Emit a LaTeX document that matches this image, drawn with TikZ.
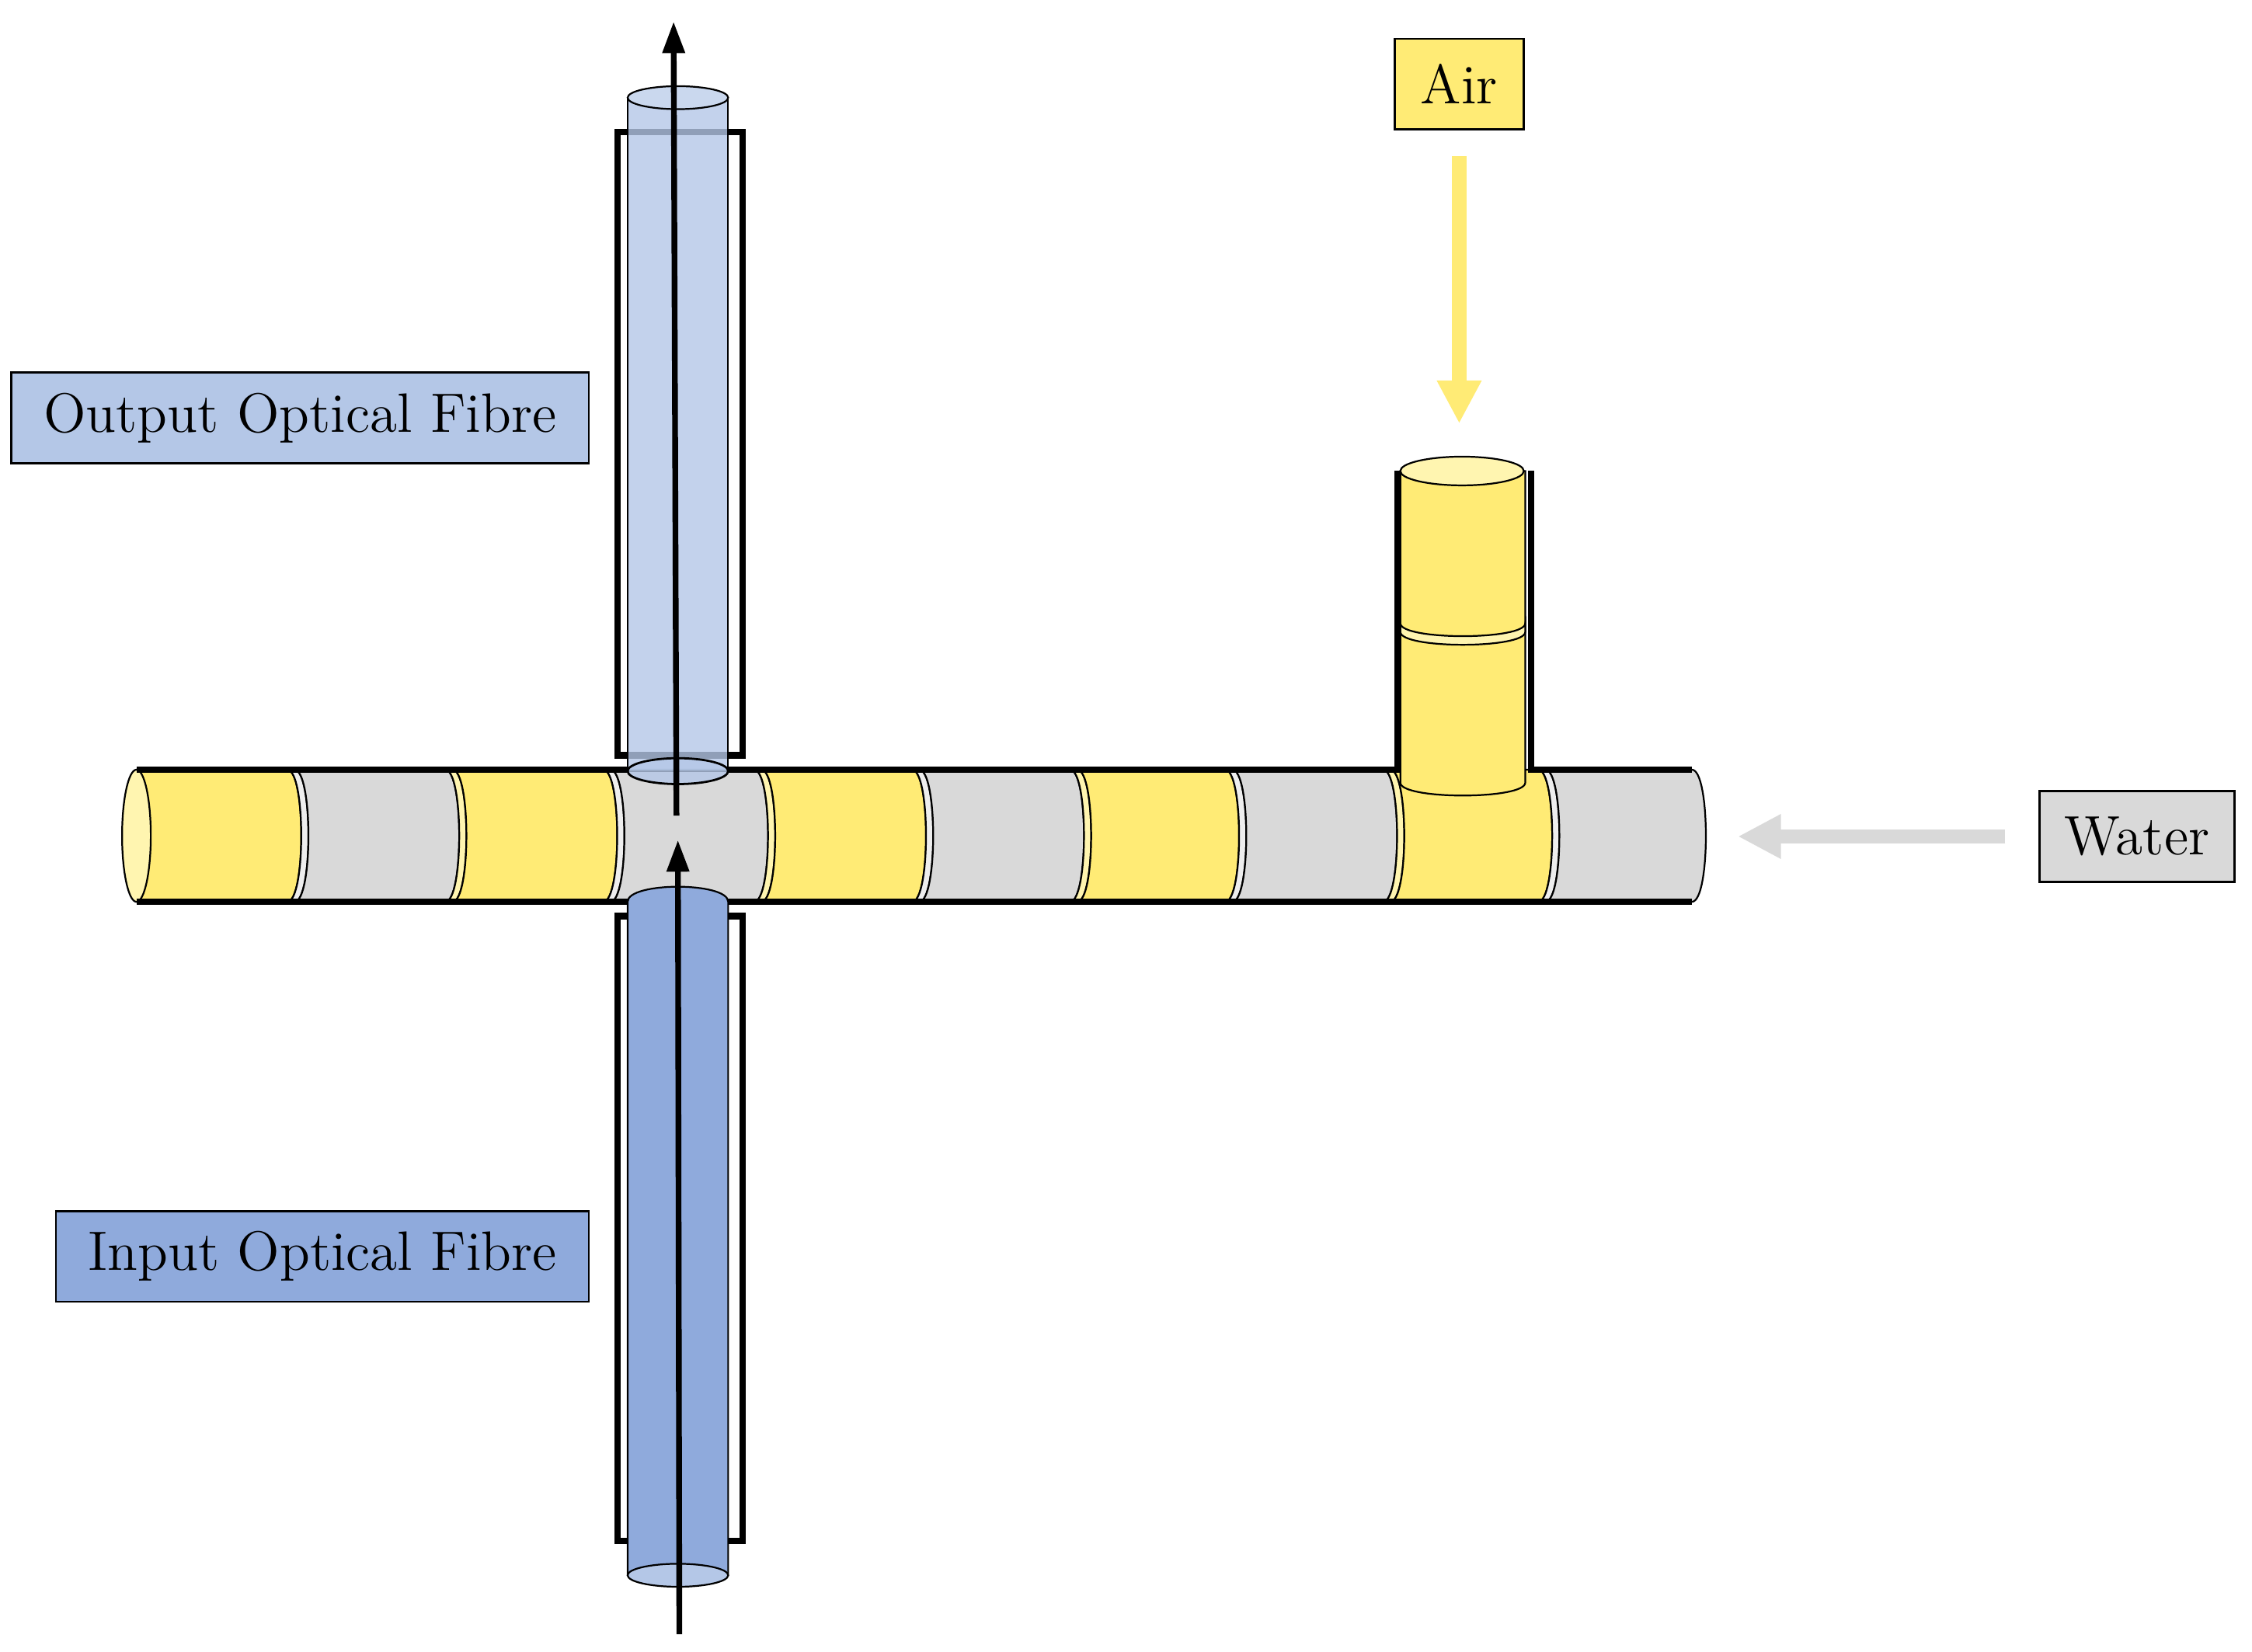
\documentclass[tikz,border=0pt]{standalone}
\usepackage{tikz}
\usetikzlibrary{positioning,arrows.meta}
\definecolor{airyellow}{HTML}{FFEB75}
\definecolor{lightyellow}{HTML}{FFF5B0}
\definecolor{watergrey}{HTML}{D9D9D9}
\definecolor{lightgrey}{HTML}{EEEEEE}
\definecolor{outblue}{HTML}{B4C7E7}
\definecolor{inblue}{HTML}{8FAADC}
\tikzset{
  label box/.style={draw, line width=0.15mm, minimum height=6.3mm, inner sep=0pt, font=\fontsize{11}{13}\selectfont},
  frame/.style={line width=0.45mm},
  flow/.style={line width=0.4mm, -{Triangle[length=2.2mm,width=1.5mm]}},
  feed/.style={line width=1mm, -{Triangle[length=3mm,width=2.9mm]}},
}
% one piece of the horizontal tube: ring from #1, body to #2
\newcommand{\seg}[4]{%
  \filldraw[#4, draw=black, line width=0.12mm] (#1-5,536) .. controls +(13,0) and +(13,0) .. (#1-5,628) -- (#1,628) .. controls +(13,0) and +(13,0) .. (#1,536) -- cycle;
  \filldraw[#3, draw=black, line width=0.12mm] (#1,536) .. controls +(13,0) and +(13,0) .. (#1,628) -- (#2,628) .. controls +(13,0) and +(13,0) .. (#2,536) -- cycle;
}
\begin{document}
\begin{tikzpicture}[x=0.1mm, y=-0.1mm]
\useasboundingbox (0,0) rectangle (1568,1150);

% frames of the fibre holders
\draw[frame] (430,92) rectangle (517,526);
\draw[frame] (430,638) rectangle (517,1073);

% horizontal tube
\filldraw[airyellow, draw=black, line width=0.12mm] (95,536) -- (200,536) .. controls +(13,0) and +(13,0) .. (200,628) -- (95,628) -- cycle;
\seg{205}{310}{watergrey}{lightgrey}
\seg{315}{420}{airyellow}{lightyellow}
\seg{425}{525}{watergrey}{lightgrey}
\seg{530}{635}{airyellow}{lightyellow}
\seg{640}{745}{watergrey}{lightgrey}
\seg{750}{853}{airyellow}{lightyellow}
\seg{858}{963}{watergrey}{lightgrey}
\seg{968}{1071}{airyellow}{lightyellow}
\seg{1076}{1178}{watergrey}{lightgrey}
\filldraw[lightyellow, draw=black, line width=0.12mm] (95,582) ellipse[x radius=10, y radius=46];

% air inlet
\filldraw[airyellow, draw=black, line width=0.12mm] (975,328) -- (975,545) .. controls (975,557) and (1062,557) .. (1062,545) -- (1062,328) -- cycle;
\filldraw[lightyellow, draw=black, line width=0.12mm] (975,434) .. controls (975,446) and (1062,446) .. (1062,434) -- (1062,440) .. controls (1062,452) and (975,452) .. (975,440) -- cycle;
\filldraw[lightyellow, draw=black, line width=0.12mm] (1018,328) ellipse[x radius=43, y radius=10];
\draw[frame] (973,328) -- (973,538);
\draw[frame] (1066,328) -- (1066,538);

% walls of the horizontal tube
\draw[frame] (95,536) -- (437,536) (507,536) -- (973,536) (1066,536) -- (1178,536);
\draw[frame] (95,628) -- (437,628) (507,628) -- (1178,628);

% output fibre
\filldraw[outblue, fill opacity=0.8, draw=black, line width=0.12mm] (437,68) rectangle (507,537);
\filldraw[outblue, fill opacity=0.8, draw=black, line width=0.15mm] (472,537) ellipse[x radius=35, y radius=9];
\filldraw[outblue!70!white, draw=black, line width=0.12mm] (472,68) ellipse[x radius=35, y radius=8];

% input fibre
\filldraw[inblue, draw=black, line width=0.12mm] (437,1097) -- (437,628) .. controls (437,614) and (507,614) .. (507,628) -- (507,1097) -- cycle;
\filldraw[outblue, draw=black, line width=0.12mm] (472,1097) ellipse[x radius=35, y radius=8];

% labels
\node[label box, fill=outblue, minimum width=40.2mm] (output) at (209,291) {Output Optical Fibre};
\node[label box, fill=inblue, minimum width=37.1mm] (input) at (224.5,875) {Input Optical Fibre};
\node[label box, fill=airyellow, minimum width=9mm] (air) at (1016,58.5) {Air};
\node[label box, fill=watergrey, minimum width=13.6mm] (water) at (1488,582.5) {Water};

% light path and feeds
\coordinate (in start) at (473,1138);
\coordinate (in end) at (472,585);
\coordinate (out start) at (471,568);
\coordinate (out end) at (469,15);
\coordinate (air end) at (1016,295);
\coordinate (water end) at (1210,582.5);
\draw[flow] (in start) -- (in end);
\draw[flow] (out start) -- (out end);
\draw[feed, airyellow] (air.south) ++(0,18) -- (air end);
\draw[feed, watergrey] (water.west) ++(-23,0) -- (water end);
\end{tikzpicture}
\end{document}
